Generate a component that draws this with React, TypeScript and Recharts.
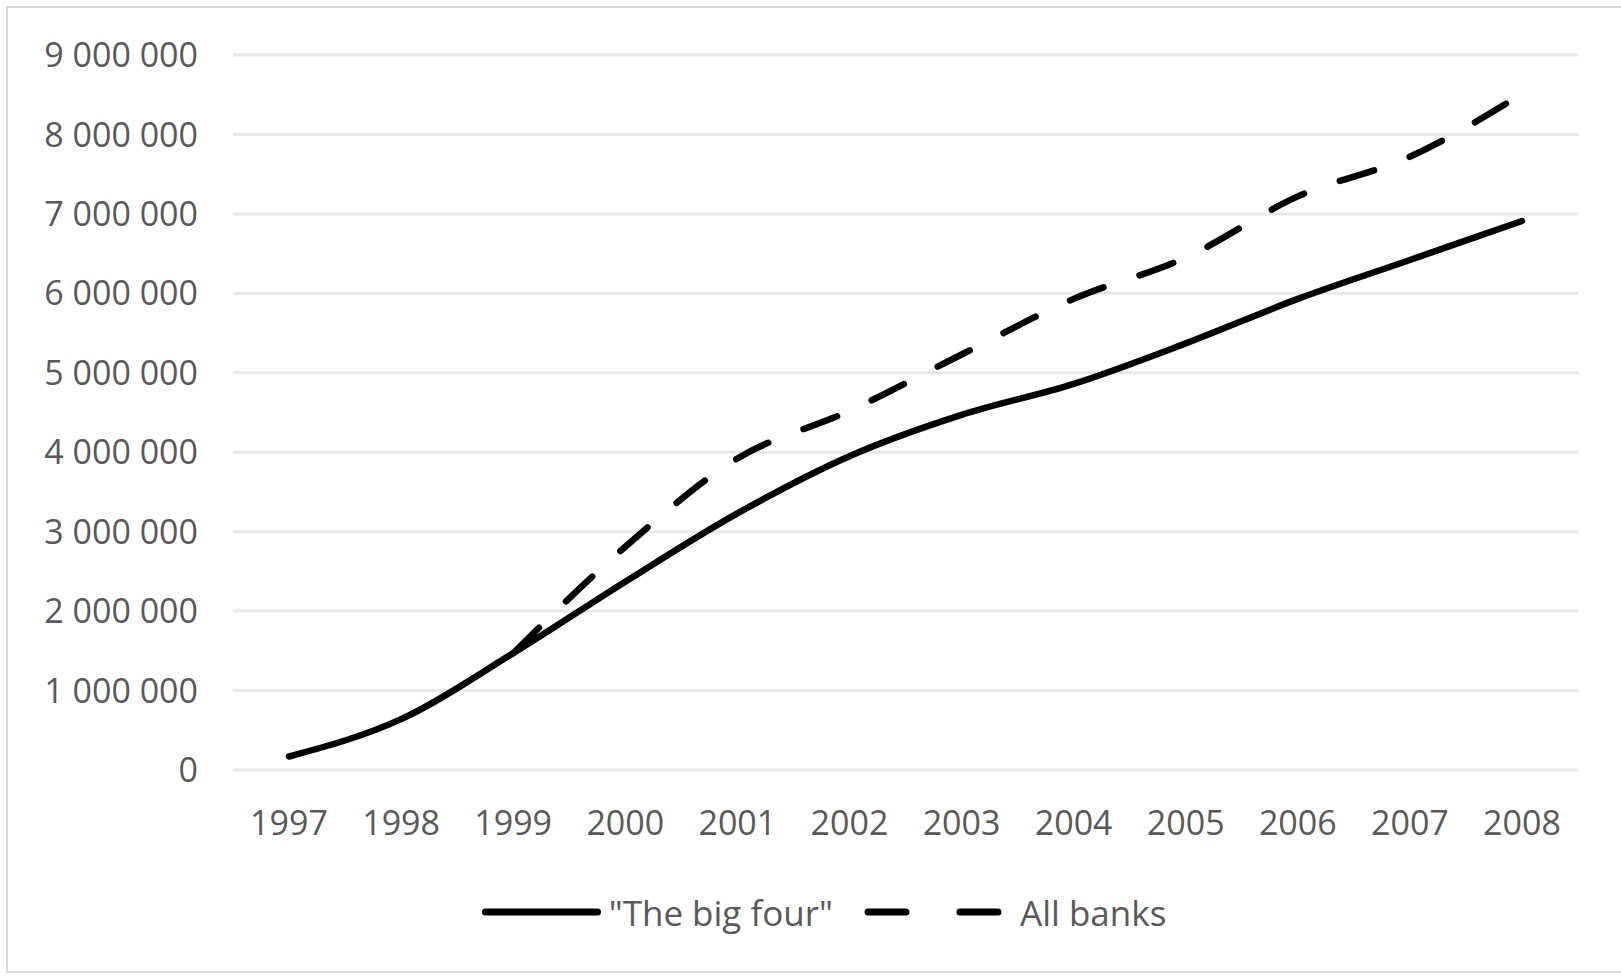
import React from "react";
import { LineChart, Line, XAxis, YAxis, CartesianGrid, Legend } from "recharts";

const years = ["1997","1998","1999","2000","2001","2002","2003","2004","2005","2006","2007","2008"];
const bigFour = [170000, 640000, 1470000, 2370000, 3230000, 3950000, 4470000, 4860000, 5370000, 5930000, 6420000, 6910000];
const allBanks: (number | null)[] = [null, null, 1470000, 2810000, 3920000, 4520000, 5230000, 5930000, 6450000, 7220000, 7720000, 8510000];
const yTicks = [0, 1000000, 2000000, 3000000, 4000000, 5000000, 6000000, 7000000, 8000000, 9000000];
const seriesNames = ['"The big four"', "All banks"];

const data = years.map((y, i) => ({ year: y, big: bigFour[i], all: allBanks[i] }));

const FONT = "'Open Sans', sans-serif";
const TEXT = "#595959";

const fmt = (v: number) => String(v).replace(/\B(?=(\d{3})+(?!\d))/g, " ");

const LegendContent = () => (
  <div style={{ display: "flex", justifyContent: "center", alignItems: "center", height: 60, paddingLeft: 70, fontFamily: FONT, fontSize: 35, color: TEXT }}>
    <svg width={119} height={20} style={{ marginRight: 8 }}>
      <line x1={3.5} y1={10} x2={115.5} y2={10} stroke="#000" strokeWidth={7} strokeLinecap="round" />
    </svg>
    <span>{seriesNames[0]}</span>
    <svg width={142} height={20} style={{ marginLeft: 29, marginRight: 16 }}>
      <line x1={6} y1={10} x2={136} y2={10} stroke="#000" strokeWidth={7} strokeLinecap="round" strokeDasharray="38 54" />
    </svg>
    <span>{seriesNames[1]}</span>
  </div>
);

export default function App() {
  return (
    <div style={{ position: "absolute", left: 0, top: 0, width: 1621, height: 977, background: "#fff", overflow: "hidden" }}>
      <div style={{ position: "absolute", left: 6, top: 6, width: 1640, height: 967, border: "2px solid #d9d9d9", boxSizing: "border-box" }} />
      <div style={{ position: "absolute", left: 0, top: 0 }}>
        <LineChart width={1621} height={977} data={data} margin={{ top: 55, right: 43, bottom: 35, left: 0 }}>
          <CartesianGrid horizontal vertical={false} stroke="#ebe7e7" strokeWidth={3} />
          <XAxis
            dataKey="year"
            axisLine={false}
            tickLine={false}
            tickSize={0}
            tickMargin={41}
            height={112}
            interval={0}
            padding={{ left: 56, right: 56 }}
            tick={{ fill: TEXT, fontSize: 34, fontFamily: FONT }}
          />
          <YAxis
            domain={[0, 9000000]}
            ticks={yTicks}
            axisLine={false}
            tickLine={false}
            tickSize={0}
            tickMargin={35}
            width={233}
            interval={0}
            tickFormatter={fmt}
            tick={{ fill: TEXT, fontSize: 34, fontFamily: FONT }}
          />
          <Legend verticalAlign="bottom" height={60} content={<LegendContent />} />
          <Line
            type="monotone"
            dataKey="big"
            name={seriesNames[0]}
            stroke="#000"
            strokeWidth={6.5}
            strokeLinecap="round"
            dot={false}
            activeDot={false}
            isAnimationActive={false}
          />
          <Line
            type="monotone"
            dataKey="all"
            name={seriesNames[1]}
            stroke="#000"
            strokeWidth={6.5}
            strokeLinecap="round"
            strokeDasharray="36 38"
            dot={false}
            activeDot={false}
            connectNulls={false}
            isAnimationActive={false}
          />
        </LineChart>
      </div>
    </div>
  );
}
